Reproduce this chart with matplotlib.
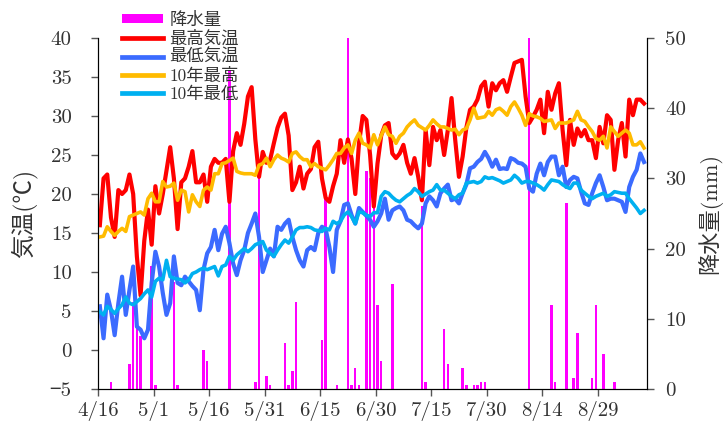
import numpy as np
import matplotlib
matplotlib.use("Agg")
import matplotlib.pyplot as plt
from matplotlib.patches import Patch
from matplotlib.lines import Line2D

plt.rcParams["font.family"] = ["cmr10", "Noto Sans CJK JP"]
plt.rcParams["axes.unicode_minus"] = True

# x axis: day 0 = 4/16
xtick_labels = ["4/16", "5/1", "5/16", "5/31", "6/15", "6/30", "7/15", "7/30", "8/14", "8/29"]
ytick_temp = [-5, 0, 5, 10, 15, 20, 25, 30, 35, 40]
ytick_rain = [0, 10, 20, 30, 40, 50]

# daily max temperature (最高気温)
tmax = [16, 22, 22.5, 17, 14.5, 20.5, 20, 20.5, 22.5, 20,
        12, 7, 14, 18, 13.5, 21, 17.5, 20, 23, 26,
        22, 15.5, 21.5, 22, 23.5, 25.5, 21.5, 21.5, 22.5, 19,
        23.5, 24.5, 24, 24, 24.5, 19, 25.5, 27.8, 26.3, 29,
        32.5, 33.7, 27, 22.2, 25.4, 24, 24.4, 26.5, 28.5, 29.8,
        30.3, 27.5, 20.5, 21.5, 23.5, 20.7, 22.6, 23.2, 26, 26.7,
        22, 19.5, 19, 21, 22.6, 26.9, 24, 27, 24.5, 20,
        26.5, 30, 29.5, 25, 18.4, 23.9, 27.5, 28.8, 29.1, 25.2,
        24.6, 25.2, 26.3, 24, 22.6, 24.6, 22.2, 19.2, 28.2, 23.7,
        28.6, 26.9, 28.2, 25, 28.2, 32.3, 26.9, 22.2, 24.8, 28.5,
        30.8, 31.2, 32.1, 33.8, 34.4, 31.2, 34.2, 33.3, 34.2, 34.6,
        33.1, 35, 36.8, 37, 37.2, 32.5, 29.1, 29.9, 30.8, 32.1,
        27.8, 33.1, 30.8, 32.9, 34.2, 28.2, 23.7, 29.5, 26.3, 28.4,
        27.4, 28.2, 26.9, 26.9, 24.6, 28.6, 26.5, 30.1, 29.5, 23.1,
        26.9, 29.1, 24.8, 32.1, 30.1, 32.1, 32.1, 31.6]

# daily min temperature (最低気温)
tmin = [5.6, 1.5, 7.1, 5.1, 1.9, 6, 9.4, 4.5, 7.7, 10.7,
        3, 2.6, 1.5, 2.6, 8.6, 12.6, 10.7, 7.3, 4.5, 6,
        12, 8.6, 8.3, 9.4, 8.8, 8.2, 7.7, 5.1, 10.3, 12.4,
        13.2, 15.4, 12.8, 14.9, 15.8, 13.7, 11.1, 9.6, 11.5, 12.8,
        15, 16.2, 17.5, 14.5, 10, 11.5, 13, 12, 15.8, 15.4,
        16.2, 16.7, 14.5, 12.8, 11.5, 10.7, 12.8, 13.2, 12.8, 15,
        15.8, 15.5, 13.2, 10, 15.4, 16.5, 18.6, 18.8, 17.3, 16.2,
        18.2, 17.7, 17.2, 16.7, 15.8, 16.5, 17.5, 19.4, 16.7, 17.9,
        18.2, 18.4, 17.9, 16.7, 16.5, 16, 15.6, 16.2, 18.8, 19.7,
        19.2, 18.4, 20.1, 20.7, 21.2, 19.2, 19.4, 18.8, 20.1, 21.2,
        23.3, 23.5, 24.1, 24.5, 25.4, 24.6, 23.5, 24.4, 23.2, 23.3,
        23.2, 24.6, 24.4, 24, 23.9, 23.5, 20.7, 20.3, 22.6, 23.9,
        22.4, 24.1, 24.8, 24.8, 22.4, 23.5, 20.9, 21.8, 22.2, 22,
        20.3, 18.8, 18.6, 20.1, 21.4, 22.4, 20.9, 19.2, 19.4, 19.4,
        19.2, 19, 17.7, 20.9, 22.2, 23.1, 25.2, 24.1]

# 10-year average max (10年最高)
avg_max = [14.5, 14.6, 15.8, 15.2, 14.7, 15.2, 15.6, 15.2, 17.1, 17.3,
           17.5, 17.7, 17.3, 19.4, 20.1, 19, 19, 21.6, 20.9, 21,
           21.4, 19.2, 20.5, 20.3, 17.7, 19.9, 19, 18.4, 20.5, 20.9,
           20.5, 22.6, 22.6, 23.9, 24, 24.3, 24.6, 22.9, 22.7, 22.6,
           22.6, 22.6, 22.4, 23.7, 23.9, 24.6, 23.5, 24.4, 25, 24.6,
           24.4, 24.1, 25.2, 25.4, 24.8, 24.4, 24.4, 23.5, 23.9, 23.5,
           23.3, 23.1, 23.7, 24.4, 25.2, 25.2, 25.9, 26.3, 25.2, 26.9,
           27.8, 26.5, 26.3, 25.9, 27.6, 26.3, 27.5, 28.6, 27.6, 27.4,
           26.5, 27.4, 27.8, 28.6, 29.1, 29.5, 28.8, 28.5, 28.2, 28.8,
           29.5, 29, 28.6, 28.6, 28.4, 28.2, 28.3, 27.6, 28.2, 28.4,
           29.5, 31, 29.7, 29.8, 29.9, 30.6, 30.1, 30.8, 31, 30.6,
           30.1, 31.2, 31.8, 31, 30.1, 28.8, 30.3, 30, 29.9, 29.7,
           29.3, 29.4, 29.5, 28.4, 29.1, 29.1, 29.1, 29.3, 29.5, 30.6,
           29.5, 29.3, 28.6, 28, 27.1, 26.9, 27.4, 25.9, 28.6, 28,
           27.4, 27.8, 28.2, 27.8, 26.3, 26.3, 26.7, 25.9]

# 10-year average min (10年最低)
avg_min = [4.9, 4.5, 5.6, 5.2, 4.7, 5.3, 5.8, 6.8, 6, 5.8,
           6.2, 6.6, 7.2, 7.7, 6.8, 8.8, 9.2, 9, 11.5, 9.4,
           9.2, 9.1, 9, 8.6, 9, 9.8, 10, 10.3, 10.5, 10.3,
           10.5, 10.7, 9.5, 10.7, 10.9, 12, 11.5, 12.2, 12.6, 13,
           12.6, 13, 13.5, 13.7, 13.9, 12.8, 12.4, 12, 12.8, 13.5,
           14.1, 13.7, 14.5, 15.4, 15.7, 15.7, 15.8, 15.7, 15.4, 15.3,
           15.2, 15.6, 15.4, 16.5, 16.2, 16.5, 17.3, 17.7, 17.1, 16.2,
           17.7, 17.6, 17.3, 17.1, 17.6, 17.6, 19.7, 20.3, 20.1, 19.6,
           19.2, 19, 19.4, 19.8, 20.1, 20.7, 20.3, 19.7, 20, 20.3,
           20.5, 21.2, 20.5, 20.5, 20.1, 19.7, 19.4, 19.9, 20.1, 21.4,
           21.5, 21.6, 21.4, 21.6, 22.2, 22, 22.1, 21.9, 21.7, 21.4,
           21.6, 21.8, 22.4, 22, 21.4, 21.6, 21.6, 21.4, 21.2, 20.9,
           20.5, 21.2, 21.8, 21.7, 21.6, 21.2, 20.9, 20.7, 21.4, 21.4,
           20.5, 20.1, 19.7, 19.4, 19.7, 19.9, 20.1, 19.7, 19.9, 20.3,
           20.2, 20.1, 20.1, 19.4, 18.8, 18.2, 17.5, 17.9]

# precipitation (降水量, mm) on rainy days
rain_day = [3, 8, 9, 10, 11, 14, 15, 20, 21, 28,
            29, 35, 42, 43, 45, 46, 50, 51, 52, 53,
            60, 61, 64, 67, 68, 69, 70, 72, 73, 74,
            75, 76, 79, 87, 88, 93, 94, 98, 99, 101,
            102, 103, 104, 116, 122, 123, 126, 128, 129, 133,
            134, 136, 139]
rain_mm = [1, 3.5, 12.4, 9.5, 7.5, 17.5, 0.5, 15.3, 0.5, 5.5,
           4, 45.5, 1, 30, 1.9, 0.5, 6.5, 0.5, 2.5, 12.4,
           7, 27, 0.5, 55, 0.5, 3, 0.5, 31, 30, 29,
           12, 4, 15, 26, 1, 8.5, 3.5, 3, 0.5, 0.5,
           0.5, 1, 1, 55, 12, 1, 26.5, 1.5, 8, 1.5,
           12, 5, 1]

n_days = len(tmax)
x = np.arange(n_days) + 0.5  # values plotted at mid-day
rx = np.array(rain_day) + 0.5

c_max = "#ff0000"
c_min = "#3b6bff"
c_amax = "#ffbb00"
c_amin = "#00b0f0"
c_rain = "#ff00ff"
txt = "#333333"

fig = plt.figure(figsize=(7.26, 4.24), dpi=100)
ax = fig.add_axes([98 / 726, 35 / 424, 549 / 726, 351 / 424])
ax2 = ax.twinx()

ax2.bar(rx, rain_mm, width=0.65, color=c_rain, zorder=1)
ax2.set_ylim(0, 50)
ax2.set_yticks(ytick_rain)

ax.plot(x, tmax, color=c_max, lw=3)
ax.plot(x, tmin, color=c_min, lw=3)
ax.plot(x, avg_max, color=c_amax, lw=2.6)
ax.plot(x, avg_min, color=c_amin, lw=2.6)

# lines above the bars
ax.set_zorder(ax2.get_zorder() + 1)
ax.patch.set_visible(False)

ax.set_ylim(-5, 40)
ax.set_yticks(ytick_temp)
ax.set_xlim(0, 148.3)
ax.set_xticks(np.arange(len(xtick_labels)) * 15)
ax.set_xticklabels(xtick_labels)

for a in (ax, ax2):
    a.spines["top"].set_visible(False)
    a.tick_params(labelsize=15, colors=txt, length=5, width=1)
    a.tick_params(axis="both", color="#555555")
ax.tick_params(axis="y", pad=14)
ax2.tick_params(axis="y", pad=8)

ax.set_ylabel("気温(℃)", fontsize=17, color=txt, labelpad=9)
ax2.set_ylabel("降水量(mm)", fontsize=16, color=txt, labelpad=8)

handles = [
    Patch(facecolor=c_rain, label="降水量"),
    Line2D([], [], color=c_max, lw=3.4, label="最高気温"),
    Line2D([], [], color=c_min, lw=3.4, label="最低気温"),
    Line2D([], [], color=c_amax, lw=3.4, label="10年最高"),
    Line2D([], [], color=c_amin, lw=3.4, label="10年最低"),
]
leg = ax.legend(handles=handles, loc="upper left", bbox_to_anchor=(0.043, 1.075),
                frameon=False, fontsize=12.5, borderpad=0, borderaxespad=0,
                handlelength=2.4, handleheight=0.5, handletextpad=0.35,
                labelspacing=0.15)
for t in leg.get_texts():
    t.set_color(txt)

fig.savefig("out.png", dpi=100)
